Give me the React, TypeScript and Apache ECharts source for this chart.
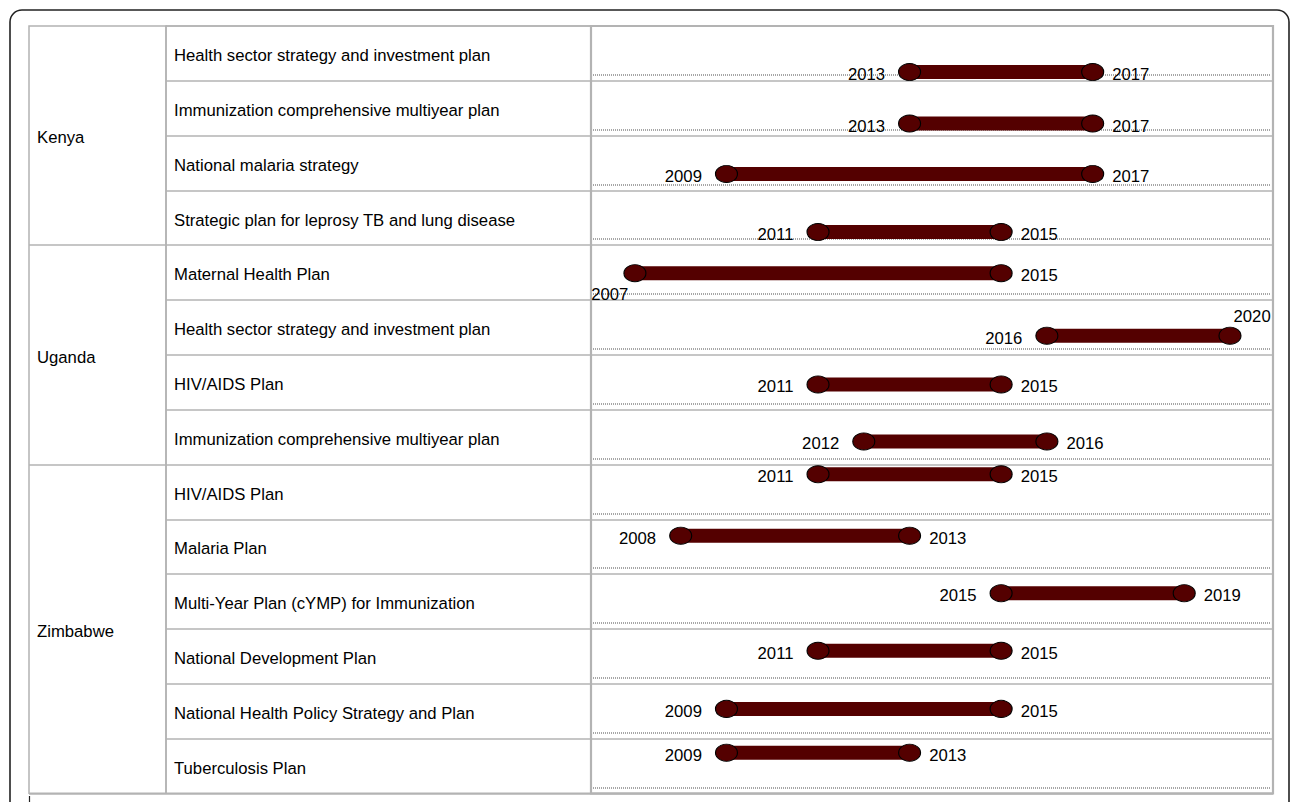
import React, { useEffect, useRef } from "react";
import * as echarts from "echarts";

// ---- data ----
const countries = ["Kenya", "Uganda", "Zimbabwe"];
const plansPerCountry = [4, 4, 6];
const plans = [
  "Health sector strategy and investment plan",
  "Immunization comprehensive multiyear plan",
  "National malaria strategy",
  "Strategic plan for leprosy TB and lung disease",
  "Maternal Health Plan",
  "Health sector strategy and investment plan",
  "HIV/AIDS Plan",
  "Immunization comprehensive multiyear plan",
  "HIV/AIDS Plan",
  "Malaria Plan",
  "Multi-Year Plan (cYMP) for Immunization",
  "National Development Plan",
  "National Health Policy Strategy and Plan",
  "Tuberculosis Plan",
];
const startYears = [2013, 2013, 2009, 2011, 2007, 2016, 2011, 2012, 2011, 2008, 2015, 2011, 2009, 2009];
const endYears = [2017, 2017, 2017, 2015, 2015, 2020, 2015, 2016, 2015, 2013, 2019, 2015, 2015, 2013];
// vertical jitter of each dumbbell within its row (row units, + = down)
const rowJitter = [0.34, 0.28, 0.2, 0.26, 0.01, 0.15, 0.04, 0.08, -0.32, -0.2, -0.15, -0.1, -0.04, -0.24];

const FONT = "Liberation Sans";
const FS = 16.7;
const GRID_LINE = "#b3b3b3";
const BAR = "#540000";

export default function App() {
  const ref = useRef<HTMLDivElement>(null);

  useEffect(() => {
    if (!ref.current) return;
    const chart = echarts.init(ref.current, undefined, { renderer: "svg" });

    const nRows = plans.length;
    const idx = plans.map((_, i) => String(i));
    const yPos = plans.map((_, i) => i + 0.5 + rowJitter[i]);

    // country boundaries and label positions
    const boundaries: number[] = [];
    const midLabel: Record<number, string> = {};
    let acc = 0;
    plansPerCountry.forEach((n, k) => {
      if (acc > 0) boundaries.push(acc);
      midLabel[acc + n / 2] = countries[k];
      acc += n;
    });

    const top = 26;
    const height = 767.3;
    const textShift = 2.3;

    const startData = plans.map((_, i) => {
      const item: any = { value: [startYears[i], yPos[i]] };
      if (i === 4) item.label = { offset: [18, 21] };
      return item;
    });
    const endData = plans.map((_, i) => {
      const item: any = { value: [endYears[i], yPos[i]] };
      if (i === 5) item.label = { offset: [-16, -19] };
      return item;
    });

    const labelStyle = {
      color: "#000",
      fontFamily: FONT,
      fontSize: FS,
    };

    const hidden = {
      axisLine: { show: false },
      axisTick: { show: false },
    };

    chart.setOption({
      animation: false,
      textStyle: { fontFamily: FONT },
      graphic: [
        {
          type: "rect",
          shape: { x: 10, y: 10, width: 1279, height: 900, r: 12 },
          style: { fill: "none", stroke: "#222", lineWidth: 1.6 },
          silent: true,
        },
        {
          type: "line",
          shape: { x1: 29.5, y1: 796, x2: 29.5, y2: 810 },
          style: { stroke: "#222", lineWidth: 1.2 },
          silent: true,
        },
      ],
      grid: [
        { left: 29, top, width: 137, height, show: true, borderColor: GRID_LINE, borderWidth: 1.5 },
        { left: 166, top, width: 425, height, show: true, borderColor: GRID_LINE, borderWidth: 1.5 },
        { left: 591, top, width: 682, height, show: true, borderColor: GRID_LINE, borderWidth: 2.2 },
        { left: 593, top: top - 6, width: 678, height, show: false },
        { left: 29, top: top + textShift, width: 137, height, show: false },
        { left: 166, top: top + textShift, width: 425, height, show: false },
      ],
      xAxis: [0, 1, 2, 3, 4, 5].map((g) => ({
        type: "value",
        gridIndex: g,
        show: false,
        min: g === 2 ? 2006.04 : 0,
        max: g === 2 ? 2020.94 : 1,
      })),
      yAxis: [
        {
          gridIndex: 0,
          type: "category",
          data: idx,
          inverse: true,
          position: "left",
          ...hidden,
          axisLabel: { show: false },
          splitLine: {
            show: true,
            interval: (index: number) => boundaries.includes(index),
            lineStyle: { color: GRID_LINE, width: 1.5 },
          },
        },
        {
          gridIndex: 4,
          type: "value",
          min: 0,
          max: nRows,
          interval: 1,
          inverse: true,
          position: "left",
          ...hidden,
          splitLine: { show: false },
          axisLabel: {
            inside: true,
            margin: 8,
            showMinLabel: true,
            showMaxLabel: true,
            formatter: (v: number) => midLabel[v] || "",
            ...labelStyle,
          },
        },
        {
          gridIndex: 1,
          type: "category",
          data: idx,
          inverse: true,
          position: "left",
          ...hidden,
          axisLabel: { show: false },
          splitLine: { show: true, interval: 0, lineStyle: { color: GRID_LINE, width: 1.5 } },
        },
        {
          gridIndex: 5,
          type: "category",
          data: idx,
          inverse: true,
          position: "left",
          ...hidden,
          splitLine: { show: false },
          axisLabel: {
            inside: true,
            margin: 8,
            interval: 0,
            formatter: (_v: string, i: number) => plans[i],
            ...labelStyle,
          },
        },
        {
          gridIndex: 2,
          type: "value",
          min: 0,
          max: nRows,
          interval: 1,
          inverse: true,
          ...hidden,
          axisLabel: { show: false },
          splitLine: { show: true, lineStyle: { color: GRID_LINE, width: 1.5 } },
        },
        {
          gridIndex: 3,
          type: "value",
          min: 0,
          max: nRows,
          interval: 1,
          inverse: true,
          ...hidden,
          axisLabel: { show: false },
          splitLine: {
            show: true,
            showMinLine: false,
            showMaxLine: true,
            lineStyle: { color: "#a6a6a6", width: 2, type: [1, 1] },
          },
        },
      ],
      series: [
        {
          type: "custom",
          xAxisIndex: 2,
          yAxisIndex: 4,
          data: plans.map((_, i) => [startYears[i], endYears[i], yPos[i]]),
          encode: { x: [0, 1], y: 2 },
          renderItem: (_params: any, api: any) => {
            const s = api.coord([api.value(0), api.value(2)]);
            const e = api.coord([api.value(1), api.value(2)]);
            const h = 14;
            return {
              type: "rect",
              shape: { x: s[0], y: s[1] - h / 2, width: e[0] - s[0], height: h },
              style: { fill: BAR },
            };
          },
          silent: true,
        },
        {
          type: "scatter",
          xAxisIndex: 2,
          yAxisIndex: 4,
          symbol: "circle",
          symbolSize: [22, 17],
          itemStyle: { color: BAR, borderColor: "#000", borderWidth: 1, opacity: 1 },
          label: {
            show: true,
            position: "left",
            distance: 13,
            offset: [0, 2.5],
            formatter: (p: any) => String(p.value[0]),
            ...labelStyle,
          },
          data: startData,
          silent: true,
        },
        {
          type: "scatter",
          xAxisIndex: 2,
          yAxisIndex: 4,
          symbol: "circle",
          symbolSize: [22, 17],
          itemStyle: { color: BAR, borderColor: "#000", borderWidth: 1, opacity: 1 },
          label: {
            show: true,
            position: "right",
            distance: 8,
            offset: [0, 2.5],
            formatter: (p: any) => String(p.value[0]),
            ...labelStyle,
          },
          data: endData,
          silent: true,
        },
      ],
    });

    return () => chart.dispose();
  }, []);

  return (
    <div
      ref={ref}
      style={{ position: "fixed", left: 0, top: 0, width: 1292, height: 802, background: "#fff" }}
    />
  );
}
